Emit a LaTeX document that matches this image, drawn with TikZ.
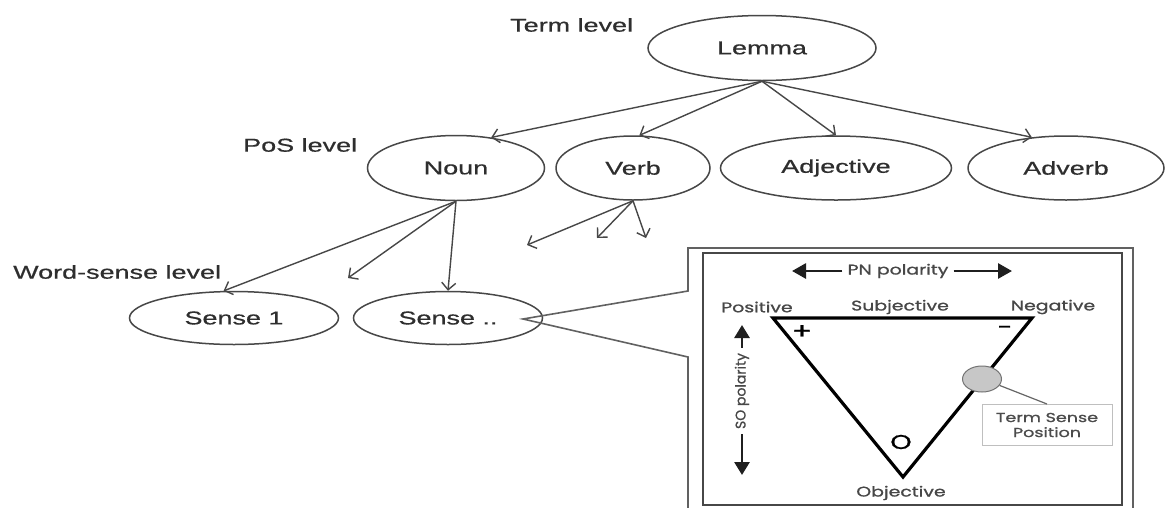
\documentclass[tikz,border=0pt]{standalone}
\usepackage{fontspec}
\setmainfont{Liberation Sans}[FakeBold=0.5]
\newfontfamily\geofont{Poppins}[FakeBold=0.9]
\usetikzlibrary{shapes.geometric,arrows.meta}
% the whole figure is set wide: stretch text horizontally
\newcommand{\hwide}[1]{\scalebox{1.45}[1]{#1}}
\newcommand{\gwide}[1]{\scalebox{1.35}[1]{#1}}

\begin{document}
\begin{tikzpicture}[x=1pt,y=-1pt,
  oval/.style={ellipse,draw=black!72,line width=1.5pt,inner sep=0pt,
    text=black!82,font=\fontsize{18.6}{20}\selectfont},
  lvl/.style={anchor=west,inner sep=0pt,text=black!82,
    font=\fontsize{18.6}{20}\selectfont},
  link/.style={draw=black!72,line width=1.4pt,
    -{Straight Barb[length=7pt,width=14pt,line width=1.4pt]}},
  frameline/.style={draw=black!62,line width=1.6pt,line join=miter},
  glabel/.style={inner sep=0pt,text=black!72,
    font=\geofont\fontsize{14}{16}\selectfont},
  bigarrow/.style={draw=black!88,line width=2.8pt,
    -{Triangle[length=14pt,width=15pt]}},
  vbigarrow/.style={draw=black!88,line width=2.8pt,
    -{Triangle[length=13pt,width=15pt]}},
]
\useasboundingbox (0,0) rectangle (1165,507);
\fill[white] (0,0) rectangle (1165,507);
\clip (0,0) rectangle (1165,507);

% ---- hierarchy -------------------------------------------------------
\node[oval,minimum width=228pt,minimum height=65pt] (lemma)  at (762,48)  {\hwide{Lemma}};
\node[oval,minimum width=177pt,minimum height=65pt] (noun)   at (456,168) {\hwide{Noun}};
\node[oval,minimum width=154pt,minimum height=64pt] (verb)   at (633,168) {\hwide{Verb}};
\node[oval,minimum width=231pt,minimum height=64pt] (adj)    at (836,168) {\hwide{Adjective}};
\node[oval,minimum width=196pt,minimum height=64pt] (adv)    at (1066,168){\hwide{Adverb}};
\node[oval,minimum width=209pt,minimum height=53pt] (sense1) at (234,318) {\hwide{Sense 1}};
\node[oval,minimum width=189pt,minimum height=53pt] (sensex) at (448,318) {\hwide{Sense ..}};

\node[lvl] (tlevel) at (510,25)  {\hwide{Term level}};
\node[lvl] (plevel) at (243,145) {\hwide{PoS level}};
\node[lvl] (wlevel) at (13,272)  {\hwide{Word-sense level}};

\draw[link] (lemma.south) -- (noun.41);
\draw[link] (lemma.south) -- (verb.79);
\draw[link] (lemma.south) -- (adj.north);
\draw[link] (lemma.south) -- (adv.138);

\coordinate (nmid) at (348,278);
\draw[link] (noun.south) -- (sense1.111);
\draw[link] (noun.south) -- (nmid);
\draw[link] (noun.south) -- (sensex.north);

\coordinate (vA) at (527,245);
\coordinate (vB) at (597,238);
\coordinate (vC) at (646,238);
\draw[link] (verb.south) -- (vA);
\draw[link] (verb.south) -- (vB);
\draw[link] (verb.south) -- (vC);

% ---- callout frame -------------------------------------------------
\coordinate (lens) at (523,319);
\coordinate (cUp)  at (688,291);
\coordinate (cDn)  at (688,357);
\coordinate (fTL)  at (688,248);
\coordinate (fTR)  at (1133,248);
\coordinate (fBR)  at (1133,530);
\coordinate (fBL)  at (688,530);
\draw[frameline] (lens) -- (cUp) -- (fTL) -- (fTR) -- (fBR) -- (fBL) -- (cDn) -- cycle;
\draw[draw=black!72,line width=2.2pt] (703,253) rectangle (1122,505);

% ---- polarity triangle ---------------------------------------------
\coordinate (tP) at (773,318);
\coordinate (tN) at (1032,318);
\coordinate (tO) at (903,477);
\draw[black,line width=3.2pt,line join=miter] (tP) -- (tN) -- (tO) -- cycle;

\node[glabel] (lpos) at (757,307) {\gwide{Positive}};
\node[glabel] (lsub) at (900,307) {\gwide{Subjective}};
\node[glabel] (lneg) at (1053,307){\gwide{Negative}};
\node[glabel] (lobj) at (901,493) {\gwide{Objective}};
\node[inner sep=0pt,font=\geofont\fontsize{22}{22}\selectfont] (plus) at (802,332) {\gwide{+}};
\node[inner sep=0pt,font=\geofont\fontsize{20}{20}\selectfont] (minus) at (1005,330) {\gwide{-}};
\node[inner sep=0pt,font=\geofont\fontsize{20}{20}\selectfont] (ocap) at (901,442) {\gwide{O}};

\node[glabel] (pn) at (898,271) {\gwide{PN polarity}};
\coordinate (pnL) at (792,271);
\coordinate (pnR) at (1012,271);
\draw[bigarrow,shorten <=5pt] (pn.west) -- (pnL);
\draw[bigarrow,shorten <=5pt] (pn.east) -- (pnR);

\node[glabel,rotate=90] (so) at (742,391) {SO polarity};
\coordinate (soU) at (742,325);
\coordinate (soD) at (742,475);
\draw[vbigarrow,shorten <=5pt] (so.east) -- (soU);
\draw[vbigarrow,shorten <=5pt] (so.west) -- (soD);

% ---- term sense marker -----------------------------------------------
\node[ellipse,draw=black!55,fill=black!22,line width=1pt,inner sep=0pt,
      minimum width=39pt,minimum height=26pt] (mark) at (982,379) {};
\node[draw=black!25,line width=1pt,minimum width=130pt,minimum height=41pt,
      inner sep=0pt,align=center,text=black!70,
      font=\geofont\fontsize{13}{15}\selectfont] (tsp) at (1047,425)
      {\gwide{Term Sense}\\\gwide{Position}};
\draw[black!60,line width=1.2pt] (mark.-20) -- (tsp.north);
\end{tikzpicture}
\end{document}
